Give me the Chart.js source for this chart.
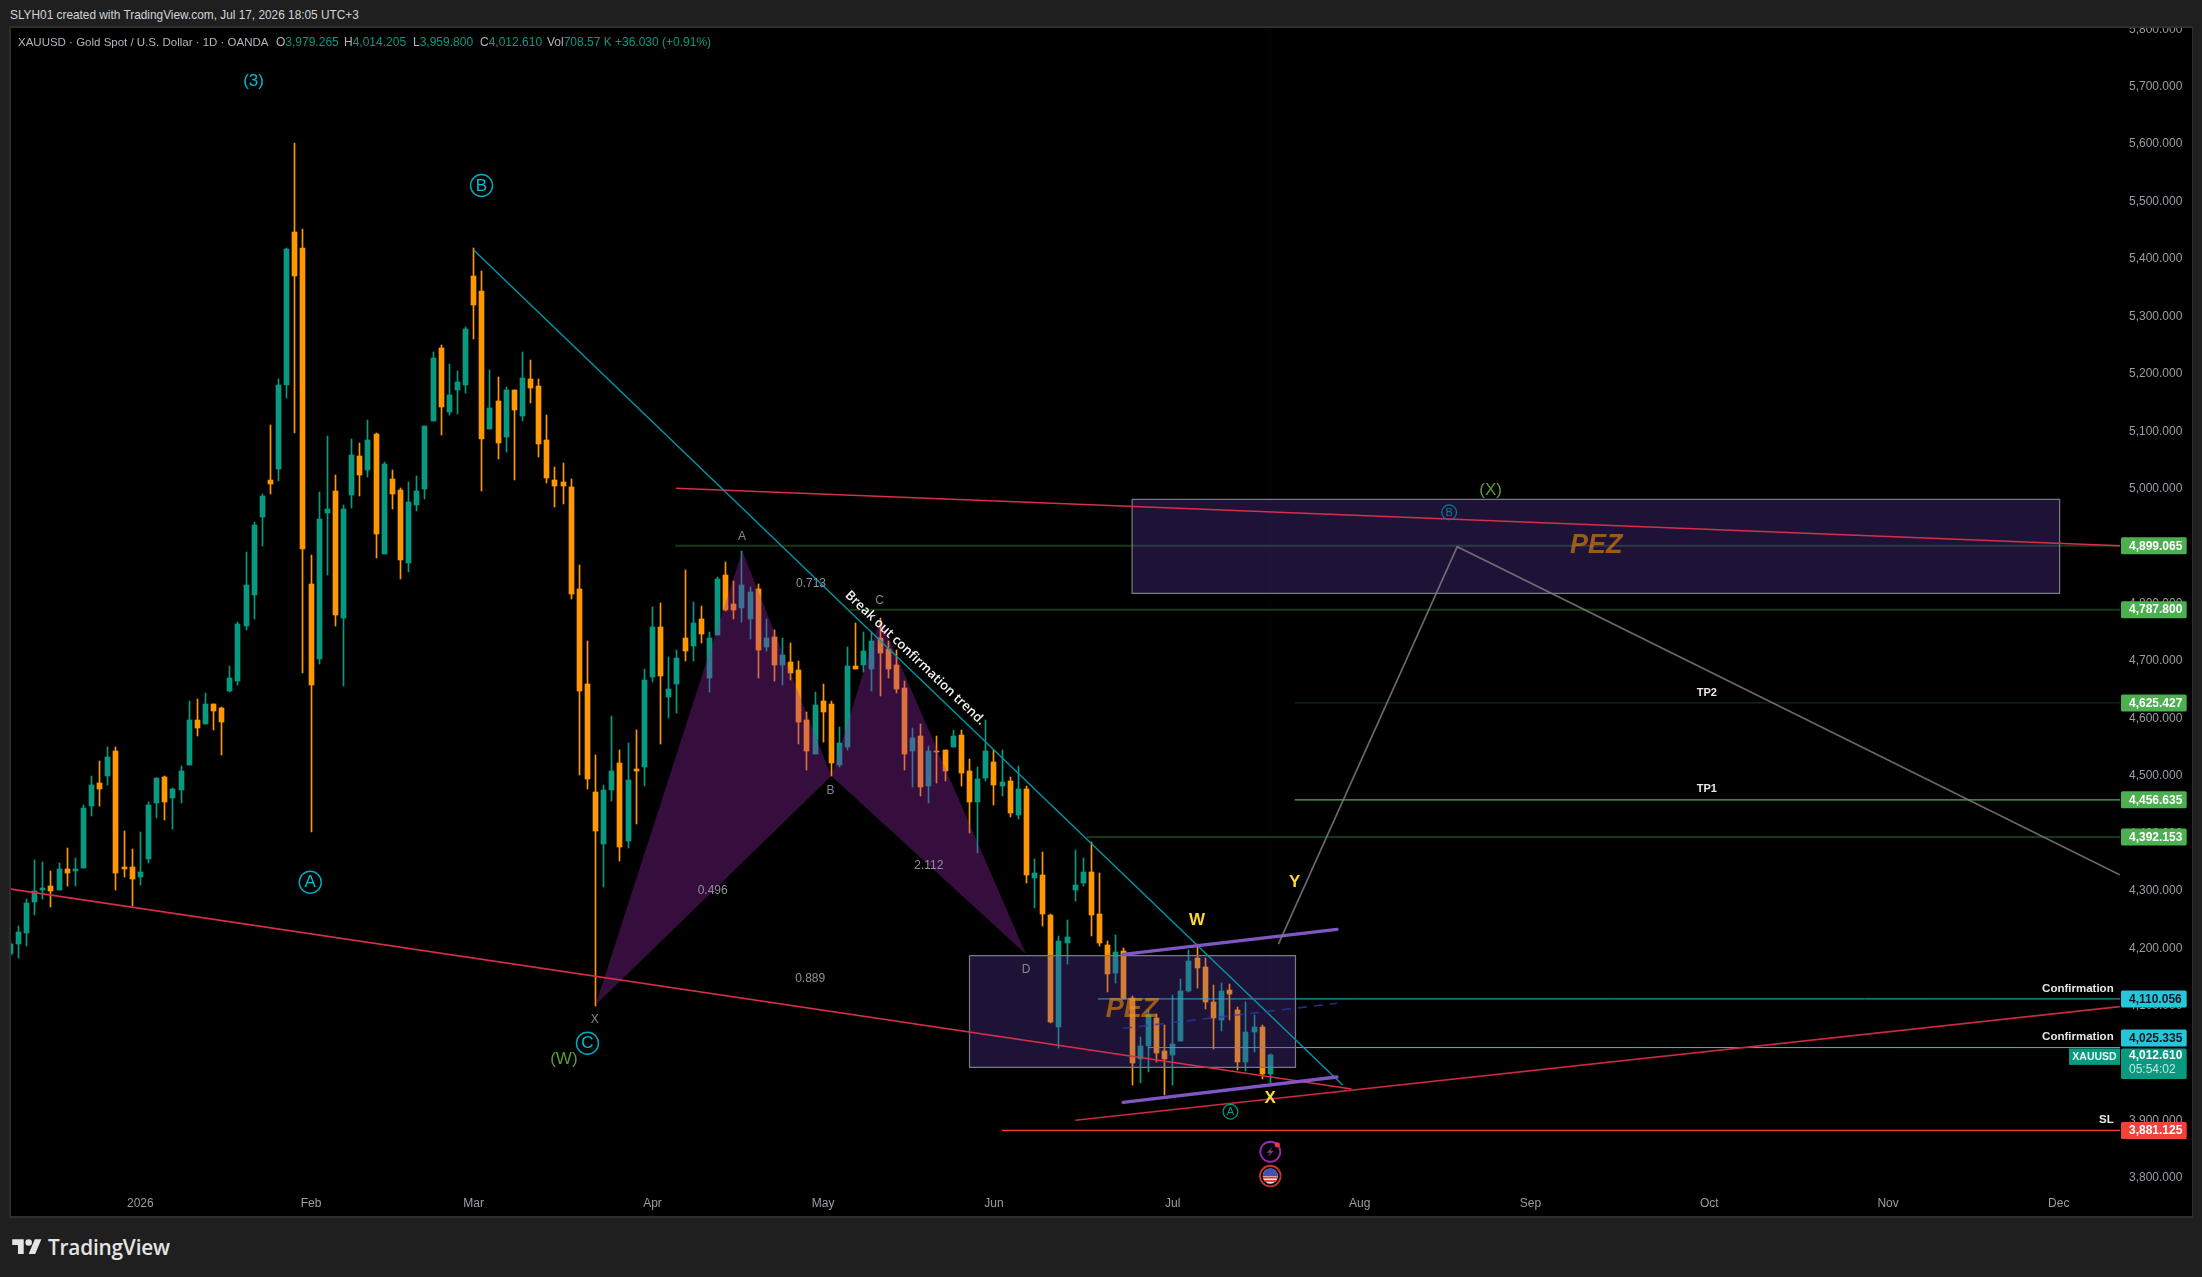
<!DOCTYPE html>
<html><head><meta charset="utf-8"><title>XAUUSD</title>
<script src="https://cdn.jsdelivr.net/npm/chart.js@4"></script>
<style>
html,body{margin:0;padding:0;width:2202px;height:1277px;overflow:hidden;background:#1f1f1f;font-family:"Liberation Sans",Arial,sans-serif}
#frame{position:absolute;left:9px;top:26px;width:2184px;height:1192px;background:#2e2e2e}
#pane{position:absolute;left:11px;top:28px;width:2181px;height:1188px;background:#000;overflow:hidden}
canvas{display:block}
.t{position:absolute;white-space:nowrap;font-size:12px;line-height:14px}
.g{color:#b2b5be}.v{color:#089981}
#logo{position:absolute;left:12px;top:1236px}
#brand{position:absolute;left:48px;top:1233px;font-size:20.8px;line-height:28px;font-weight:600;color:#e4e4e4;letter-spacing:-.2px;font-family:"Open Sans","Liberation Sans",sans-serif}
</style></head><body>
<div id="frame"></div>
<div id="pane"><canvas id="c" width="2181" height="1188"></canvas></div>
<div class="t" style="left:10px;top:8px;color:#d1d4dc;font-size:11.85px">SLYH01 created with TradingView.com, Jul 17, 2026 18:05 UTC+3</div>
<div class="t g" style="left:18px;top:35px;font-size:11.5px">XAUUSD · Gold Spot / U.S. Dollar · 1D · OANDA</div>
<div class="t" style="left:276px;top:35px"><span class="g">O</span><span class="v">3,979.265</span></div>
<div class="t" style="left:344px;top:35px"><span class="g">H</span><span class="v">4,014.205</span></div>
<div class="t" style="left:413px;top:35px"><span class="g">L</span><span class="v">3,959.800</span></div>
<div class="t" style="left:480px;top:35px"><span class="g">C</span><span class="v">4,012.610</span></div>
<div class="t" style="left:547px;top:35px"><span class="g">Vol</span><span class="v">708.57 K</span></div>
<div class="t v" style="left:615px;top:35px">+36.030 (+0.91%)</div>
<svg id="logo" width="30" height="23" viewBox="0 0 36 28"><path fill="#e4e4e4" d="M14 22H7V11H0V4h14v18zM28 22h-8l7.5-18h8L28 22z"/><circle fill="#e4e4e4" cx="20" cy="8" r="4"/></svg>
<div id="brand">TradingView</div>
<script>
// ---- candles, one per trading day ----
const opens=[4188,4206,4225,4279,4300,4307,4300,4336,4333,4338,
4446,4486,4499,4541,4340,4340,4322,4354,4452,4497,
4459,4473,4518,4596,4589,4623,4617,4647,4664,4760,
4813,4949,5013,5033,5179,5446,5418,4832,4701,4956,
4994,4774,4987,5055,5031,5094,4884,5015,4996,4869,
4970,4998,5116,5244,5132,5170,5179,5368,5343,5102,
5151,5088,5170,5125,5190,5177,5083,5013,5010,5001,
4823,4659,4471,4380,4473,4520,4385,4511,4514,4671,
4757,4635,4659,4739,4724,4771,4668,4743,4848,4797,
4790,4771,4823,4722,4741,4692,4696,4682,4596,4537,
4628,4624,4518,4549,4689,4691,4684,4739,4719,4692,
4652,4542,4568,4481,4542,4544,4548,4570,4506,4453,
4495,4522,4481,4490,4431,4475,4321,4326,4256,4061,
4208,4300,4312,4331,4258,4204,4155,4194,4112,4005,
4028,4077,4019,4012,4037,4124,4181,4166,4105,4073,
4126,4091,4000,4052,4061,3979.265];
const closes=[4206,4226,4277,4298,4303,4298,4336,4329,4336,4443,
4483,4476,4532,4329,4336,4319,4331,4448,4494,4453,
4476,4507,4596,4582,4624,4612,4593,4668,4762,4830,
4935,4986,5006,5179,5416,5368,4893,4657,4945,4963,
4778,4963,5057,5022,5083,4919,5041,4989,4874,4975,
4994,5108,5226,5141,5162,5184,5277,5319,5085,5139,
5078,5170,5136,5191,5174,5076,5017,5003,5003,4815,
4647,4493,4403,4473,4506,4375,4492,4507,4666,4757,
4673,4649,4703,4715,4764,4746,4739,4841,4788,4787,
4830,4818,4717,4739,4691,4708,4678,4593,4541,4621,
4610,4521,4556,4689,4684,4715,4734,4712,4685,4649,
4537,4565,4479,4542,4541,4506,4568,4504,4453,4493,
4541,4483,4488,4433,4476,4326,4330,4258,4070,4211,
4218,4309,4331,4256,4208,4153,4192,4110,3998,4028,
4082,4016,4005,4031,4124,4176,4164,4105,4077,4124,
4119,4000,4052,4061,3979,4012.61];
const highs=[4211,4237,4284,4352,4349,4333,4347,4373,4356,4448,
4499,4525,4549,4548,4403,4371,4401,4453,4495,4499,
4478,4516,4628,4633,4642,4624,4619,4689,4766,4888,
4940,4989,5109,5190,5418,5601,5450,4883,4993,5090,
5022,4970,5085,5078,5118,5095,5045,5031,4999,5010,
5020,5108,5237,5249,5216,5204,5280,5418,5378,5205,
5193,5176,5170,5237,5223,5190,5127,5036,5043,5015,
4865,4734,4535,4483,4602,4544,4555,4579,4685,4792,
4799,4705,4717,4856,4801,4794,4748,4844,4870,4837,
4890,4827,4832,4771,4753,4739,4729,4699,4609,4645,
4659,4628,4584,4722,4764,4748,4748,4773,4734,4717,
4664,4582,4588,4551,4568,4544,4579,4579,4527,4514,
4595,4544,4543,4497,4516,4481,4354,4365,4258,4220,
4248,4370,4356,4384,4330,4211,4221,4199,4115,4044,
4091,4084,4064,4117,4145,4195,4206,4181,4134,4138,
4136,4096,4105,4082,4064,4014.205];
const lows=[4185,4181,4202,4256,4284,4270,4300,4307,4307,4338,
4429,4446,4483,4300,4322,4272,4308,4347,4425,4422,
4406,4452,4518,4568,4589,4579,4535,4645,4657,4753,
4771,4898,4989,5012,5157,5095,4678,4401,4694,4848,
4759,4654,4965,4986,5019,4877,4884,4963,4841,4853,
4959,4980,5116,5092,5127,5129,5165,5259,4994,5102,
5050,5062,5013,5116,5148,5054,5008,4966,4972,4806,
4500,4476,4097,4305,4455,4350,4373,4415,4481,4661,
4553,4600,4607,4698,4698,4729,4644,4743,4785,4771,
4766,4736,4668,4715,4663,4656,4666,4553,4509,4537,
4558,4499,4513,4544,4684,4680,4647,4637,4668,4643,
4509,4479,4464,4452,4486,4490,4548,4481,4399,4364,
4490,4448,4464,4427,4424,4312,4269,4237,4068,4024,
4171,4281,4307,4220,4202,4122,4138,4110,3960,3963,
3982,4000,3942,3960,4037,4122,4129,4092,4023,4054,
4073,3986,3984,4017,3970,3959.8];

// ---- axes: time ticks are trading-day numbers, counted from the first candle ----
const timeTickBars=[16,37,57,79,100,121,143,166,187,209,231,252];
const timeTickLabels=["2026","Feb","Mar","Apr","May","Jun","Jul","Aug","Sep","Oct","Nov","Dec"];
const priceTicks=[3800,3900,4000,4100,4200,4300,4400,4500,4600,4700,4800,4900,5000,5100,5200,5300,5400,5500,5600,5700,5800];
const xRange=[0.086,259.53], priceRange=[3777.4,5800.4];

// ---- price levels shown on the axis ----
const levelPrices=[4899.065,4787.8,4625.427,4456.635,4392.153,4110.056,4025.335,3881.125];
const levelStarts=[81.8,103.3,158,158,132.4,133.8,140,122];

// ---- drawings: [trading day, price] ----
const redLow=[[0,4301.4],[165,3953.2]];
const redUp=[[131,3898.7],[259.5,4096.6]];
const redTop=[[81.9,4999],[259.53,4899]];
const cyanTrend=[[57,5413.9],[163.9,3960.2]];
const channelTop=[[136.9,4187.7],[163.2,4231.2]];
const channelMid=[[136.9,4058.9],[163.2,4102.4]];
const channelLow=[[136.9,3930],[163.2,3974.1]];
const projection=[[156,4205.6],[178,4897.3],[259.5,4326.1]];
const patternXAB=[[72,4099.4],[90.05,4890.4],[101,4498.1]];
const patternBCD=[[101,4498.1],[107,4773.2],[124.95,4187.7]];
const zoneLower=[118,158.1,3991,4185.3];
const zoneUpper=[138,252.1,4816.2,4979.8];
const lastBar=155;

// ---- text on the chart: [text, trading day, price] ----
const waveCyan=[["(3)",29.93,5706.9]];
const waveCircled=[["B",57.97,5526.2],["A",36.9,4313.1],["C",71,4032.8]];
const waveGreen=[["(W)",68.1,4004.9],["(X)",182.1,4994.8]];
const patternLetters=[["X",71.9,4074.5],["A",90,4914.7],["B",100.9,4472.5],["C",106.95,4803.3],["D",124.95,4161.6]];
const patternRatios=[["0.713",98.5,4833.6],["0.496",86.4,4298.4],["2.112",113,4341.9],["0.889",98.4,4144.7]];
const zoneLabels=[["PEZ",138,4090.7],["PEZ",195.1,4899.8]];
const waveYellow=[["W",146,4247.4],["Y",158,4313.1],["X",155,3937]];
const targetLabels=[["TP2",208.7,4643.1],["TP1",208.7,4475]];
const levelNotes=[["Confirmation",258.75,4128.2],["Confirmation",258.75,4044.6],["SL",258.75,3900.3]];
const trendNote=["Break out confirmation trend.",111.3,4703.5];
const smallCircled=[["A",150.1,3913.7,"#089981"],["B",177,4957.2,"#00838f"]];

// ---- axis badges ----
const badgeTexts=["4,899.065","4,787.800","4,625.427","4,456.635","4,392.153","4,110.056","4,025.335","3,881.125"];
const badgePrices=[4899.065,4787.8,4625.427,4456.635,4392.153,4110.056,4041.9,3881.125];
const badgeColors=["#4caf50","#4caf50","#4caf50","#4caf50","#4caf50","#26c6da","#26c6da","#f44336"];
const badgeInk=["#fff","#fff","#fff","#fff","#fff","#131722","#131722","#fff"];

const UP="#089981",DOWN="#ff9800";
const candleColors=closes.map((c,i)=>c>=opens[i]?UP:DOWN);
const wickData=highs.map((h,i)=>({x:i,y:[lows[i],h]}));
const bodyData=opens.map((o,i)=>({x:i,y:[o,closes[i]]}));

let ord=1000;
function line(pts,color,width,extra){return Object.assign({type:'line',data:pts.map(p=>({x:p[0],y:p[1]})),borderColor:color,borderWidth:width,pointRadius:0,pointHoverRadius:0,tension:0,fill:false,order:--ord},extra||{});}
function area(pts,color){return line(pts,'rgba(0,0,0,0)',0,{fill:'shape',backgroundColor:color});}
function zone(z){const [l,r,b,t]=z;return [
  area([[l,t],[l,b],[r,b],[r,t]],'rgba(103,58,183,0.3)'),
  line([[l,t],[r,t],[r,b],[l,b],[l,t]],'#787b86',1.2)];}

const levelColors=['rgba(76,175,80,0.32)','rgba(76,175,80,0.32)','rgba(76,175,80,0.3)','#4caf50','rgba(76,175,80,0.32)','#26c6da','#26c6da','#f44336'];
const levelWidths=[2,2,1,1.2,2,1,1,1.2];

const datasets=[
  {type:'bar',data:wickData,backgroundColor:candleColors,barThickness:1,grouped:false,order:2000},
  {type:'bar',data:bodyData,backgroundColor:candleColors,barThickness:5,grouped:false,order:1999},
  area(patternXAB,'rgba(156,39,176,0.35)'),
  area(patternBCD,'rgba(156,39,176,0.35)'),
  line([[lastBar,priceRange[0]],[lastBar,priceRange[1]]],'rgba(255,255,255,0.07)',1,{borderDash:[1,3]}),
  ...levelPrices.map((p,i)=>line([[levelStarts[i],p],[xRange[1],p]],levelColors[i],levelWidths[i])),
  ...zone(zoneLower),...zone(zoneUpper),
  line(redLow,'#d62f4a',1.6),line(redUp,'#c92a42',1.6),line(redTop,'#d62f4a',1.6),
  line(cyanTrend,'#0097a7',1.4),
  line(channelMid,'rgba(40,60,170,0.75)',1.6,{borderDash:[9,7]}),
  line(channelTop,'#7e57c2',3.4,{borderCapStyle:'round'}),
  line(channelLow,'#7e57c2',3.4,{borderCapStyle:'round'}),
  line(projection,'rgba(130,130,130,0.8)',1.7)
];

const FONT='"Liberation Sans",Arial,sans-serif';
function txt(ctx,s,x,y,font,color,align){ctx.font=font;ctx.fillStyle=color;ctx.textAlign=align||'center';ctx.textBaseline='middle';ctx.fillText(s,x,y);}

const crisp={id:'crisp',afterDatasetsUpdate(chart){
  [0,1].forEach(k=>{chart.getDatasetMeta(k).data.forEach(el=>{
    el.x=Math.floor(el.x)+0.5;
    const a=Math.round(el.y),b=Math.round(el.base);
    el.y=a;el.base=(a===b)?a+1:b;
  });});
}};

const overlay={id:'overlay',
 afterDatasetsDraw(chart){
  const c=chart.ctx,X=chart.scales.x,Y=chart.scales.y;
  const px=v=>X.getPixelForValue(v),py=v=>Y.getPixelForValue(v);
  const each=(arr,fn)=>arr.forEach(a=>fn(a[0],px(a[1]),py(a[2]),a));
  c.save();
  each(waveCyan,(s,x,y)=>txt(c,s,x,y,'17px '+FONT,'#00bcd4'));
  each(waveCircled,(s,x,y)=>{c.beginPath();c.arc(x,y,11,0,7);c.strokeStyle='#00acc1';c.lineWidth=1.4;c.stroke();txt(c,s,x,y+.5,'17px '+FONT,'#00bcd4');});
  each(waveGreen,(s,x,y)=>txt(c,s,x,y,'17px '+FONT,'#5d9a3a'));
  each(patternLetters,(s,x,y)=>txt(c,s,x,y,'12px '+FONT,'#85868d'));
  each(patternRatios,(s,x,y)=>txt(c,s,x,y,'12px '+FONT,'#909198'));
  each(zoneLabels,(s,x,y)=>txt(c,s,x,y,'italic bold 27px '+FONT,'rgba(255,152,0,0.55)'));
  each(waveYellow,(s,x,y)=>txt(c,s,x,y,'bold 17px '+FONT,'#fdd835'));
  each(targetLabels,(s,x,y)=>txt(c,s,x,y,'bold 11px '+FONT,'#e8e8e8'));
  each(levelNotes,(s,x,y)=>txt(c,s,x,y,'bold 11.5px '+FONT,'#e6e6e6','right'));
  each(smallCircled,(s,x,y,a)=>{c.beginPath();c.arc(x,y,7.4,0,7);c.strokeStyle=a[3];c.lineWidth=1.2;c.stroke();txt(c,s,x,y+.5,'11px '+FONT,a[3]);});
  // trend note
  c.save();c.translate(px(trendNote[1]),py(trendNote[2]));c.rotate(43.6*Math.PI/180);
  txt(c,trendNote[0],0,0,'600 13px "Open Sans",'+FONT,'#f2f2f2');c.restore();
  // event icons under the last bar
  const ix=px(lastBar);
  let iy=py(3844);
  c.beginPath();c.arc(ix,iy,10,0,7);c.strokeStyle='#9c27b0';c.lineWidth=1.8;c.stroke();
  c.beginPath();c.moveTo(ix+3,iy-6);c.lineTo(ix-3.5,iy+1);c.lineTo(ix,iy+1);c.lineTo(ix-3,iy+6);c.lineTo(ix+3.5,iy-1);c.lineTo(ix,iy-1);c.closePath();c.fillStyle='#7b3f8c';c.fill();
  c.beginPath();c.arc(ix+7,iy-7,2.6,0,7);c.fillStyle='#f23645';c.fill();
  iy=py(3801.7);
  c.beginPath();c.arc(ix,iy,10.3,0,7);c.strokeStyle='#d32f2f';c.lineWidth=1.8;c.stroke();
  c.save();c.beginPath();c.arc(ix,iy,7.6,0,7);c.clip();
  c.fillStyle='#eeeeee';c.fillRect(ix-8,iy-8,16,16);
  c.fillStyle='#e53935';c.fillRect(ix-8,iy+.5,16,2);c.fillRect(ix-8,iy+4,16,2);
  c.fillStyle='#3f51b5';c.fillRect(ix-8,iy-8,16,8);
  c.restore();
  c.restore();
 },
 afterDraw(chart){
  const c=chart.ctx,Y=chart.scales.y,r=chart.chartArea.right;
  const L=r+1,W=65.7,H=17;
  c.save();
  function badge(yc,h,color){c.beginPath();c.roundRect(L,yc-h/2,W,h,1.5);c.fillStyle=color;c.fill();}
  badgeTexts.forEach((s,i)=>{const y=Y.getPixelForValue(badgePrices[i]);badge(y,H,badgeColors[i]);txt(c,s,r+9,y+.5,'bold 12px '+FONT,badgeInk[i],'left');});
  // last price
  const p=closes[closes.length-1],yl=Y.getPixelForValue(p);
  c.beginPath();c.roundRect(L,yl-6.5,W,30.5,1.5);c.fillStyle=UP;c.fill();
  txt(c,p.toLocaleString('en-US',{minimumFractionDigits:3}),r+9,yl+.8,'bold 12px '+FONT,'#fff','left');
  txt(c,"05:54:02",r+9,yl+15,'12px '+FONT,'rgba(255,255,255,0.75)','left');
  c.fillStyle=UP;c.fillRect(r-51,yl-6.5,51,16.5);
  txt(c,"XAUUSD",r-25.5,yl+2,'bold 10.5px '+FONT,'#e8f5f2');
  c.restore();
 }};

new Chart(document.getElementById('c'),{
 type:'bar',
 data:{datasets},
 plugins:[crisp,overlay],
 options:{
  responsive:false,animation:false,devicePixelRatio:1,
  layout:{padding:0},
  plugins:{legend:{display:false},tooltip:{enabled:false},title:{display:false}},
  events:[],
  datasets:{bar:{grouped:false,borderWidth:0},line:{spanGaps:true}},
  scales:{
   x:{type:'linear',min:xRange[0],max:xRange[1],offset:false,
    grid:{display:false,offset:false,drawTicks:false},border:{display:false},
    afterBuildTicks:s=>{s.ticks=timeTickBars.map(v=>({value:v}));},
    afterFit:s=>{s.height=26;s.paddingLeft=0;s.paddingRight=0;s.paddingTop=0;s.paddingBottom=0;},
    ticks:{autoSkip:false,maxRotation:0,minRotation:0,padding:6,color:'#9b9da6',font:{family:FONT,size:12},
     callback:v=>timeTickLabels[timeTickBars.indexOf(v)]}},
   y:{type:'linear',position:'right',min:priceRange[0],max:priceRange[1],
    grid:{display:false,drawTicks:false},border:{display:false},
    afterBuildTicks:s=>{s.ticks=priceTicks.map(v=>({value:v}));},
    afterFit:s=>{s.width=72;s.paddingLeft=0;s.paddingRight=0;s.paddingTop=0;s.paddingBottom=0;},
    ticks:{autoSkip:false,padding:9,labelOffset:1,color:'#9b9da6',font:{family:FONT,size:12},
     callback:v=>v.toLocaleString('en-US',{minimumFractionDigits:3,maximumFractionDigits:3})}}
  }
 }
});
</script>
</body></html>
